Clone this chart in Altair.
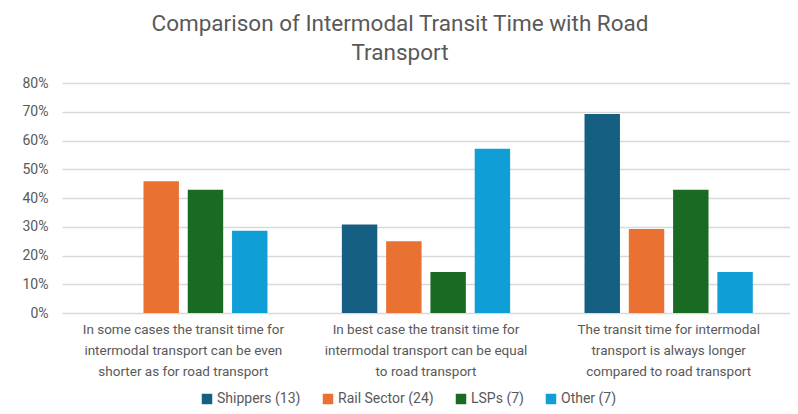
import altair as alt
import pandas as pd

categories = [
    "In some cases the transit time for|intermodal transport can be even|shorter as for road transport",
    "In best case the transit time for|intermodal transport can be equal|to road transport",
    "The transit time for intermodal|transport is always longer|compared to road transport",
]
series = ["Shippers (13)", "Rail Sector (24)", "LSPs (7)", "Other (7)"]
colors = ["#156082", "#E97132", "#196B24", "#0F9ED5"]
shippers = [0.0, 0.308, 0.692]
rail = [0.458, 0.25, 0.292]
lsps = [0.429, 0.143, 0.429]
other = [0.286, 0.571, 0.143]
y_ticks = [0, 0.1, 0.2, 0.3, 0.4, 0.5, 0.6, 0.7, 0.8]

rows = []
for s, vals in zip(series, [shippers, rail, lsps, other]):
    for c, v in zip(categories, vals):
        rows.append({"category": c, "series": s, "value": v})
df = pd.DataFrame(rows)

grey = "#595959"
font = "Roboto"

chart = alt.Chart(df).mark_bar().encode(
    x=alt.X("category:N", sort=categories, title=None,
            scale=alt.Scale(paddingInner=0, paddingOuter=0),
            axis=alt.Axis(labelAngle=0, ticks=False, domain=False,
                          labelExpr="split(datum.label, '|')",
                          labelLineHeight=21, labelPadding=9, labelFontSize=13.5,
                          labelColor=grey, labelFont=font, labelLimit=0,
                          labelBaseline="top")),
    xOffset=alt.XOffset("series:N", sort=series,
                        scale=alt.Scale(paddingInner=0.2, paddingOuter=0.84)),
    y=alt.Y("value:Q", title=None,
            scale=alt.Scale(domain=[0, 0.8]),
            axis=alt.Axis(format=".0%", values=y_ticks, labelOverlap=False,
                          ticks=False, domain=False, labelPadding=14,
                          labelFontSize=14, labelColor=grey, labelFont=font,
                          gridColor="#D9D9D9", gridWidth=1.3)),
    color=alt.Color("series:N", sort=series,
                    scale=alt.Scale(domain=series, range=colors),
                    legend=alt.Legend(title=None, orient="none", direction="horizontal",
                                      legendX=138, legendY=309,
                                      symbolType="square", symbolSize=110,
                                      symbolStrokeWidth=0,
                                      labelFontSize=14, labelColor=grey, labelFont=font,
                                      columnPadding=20, labelOffset=3)),
).properties(
    width=728,
    height=230,
    autosize=alt.AutoSizeParams(type="none"),
    padding={"left": 54, "top": 75, "right": 0, "bottom": 93},
    title=alt.TitleParams(
        text=["Comparison of Intermodal Transit Time with Road", "Transport"],
        fontSize=22.5, font=font, fontWeight="normal", color=grey,
        anchor="middle", dx=-26, offset=12, lineHeight=29,
    ),
).configure_view(stroke=None)

chart.save("out.html", embed_options={"renderer": "svg", "actions": False})
